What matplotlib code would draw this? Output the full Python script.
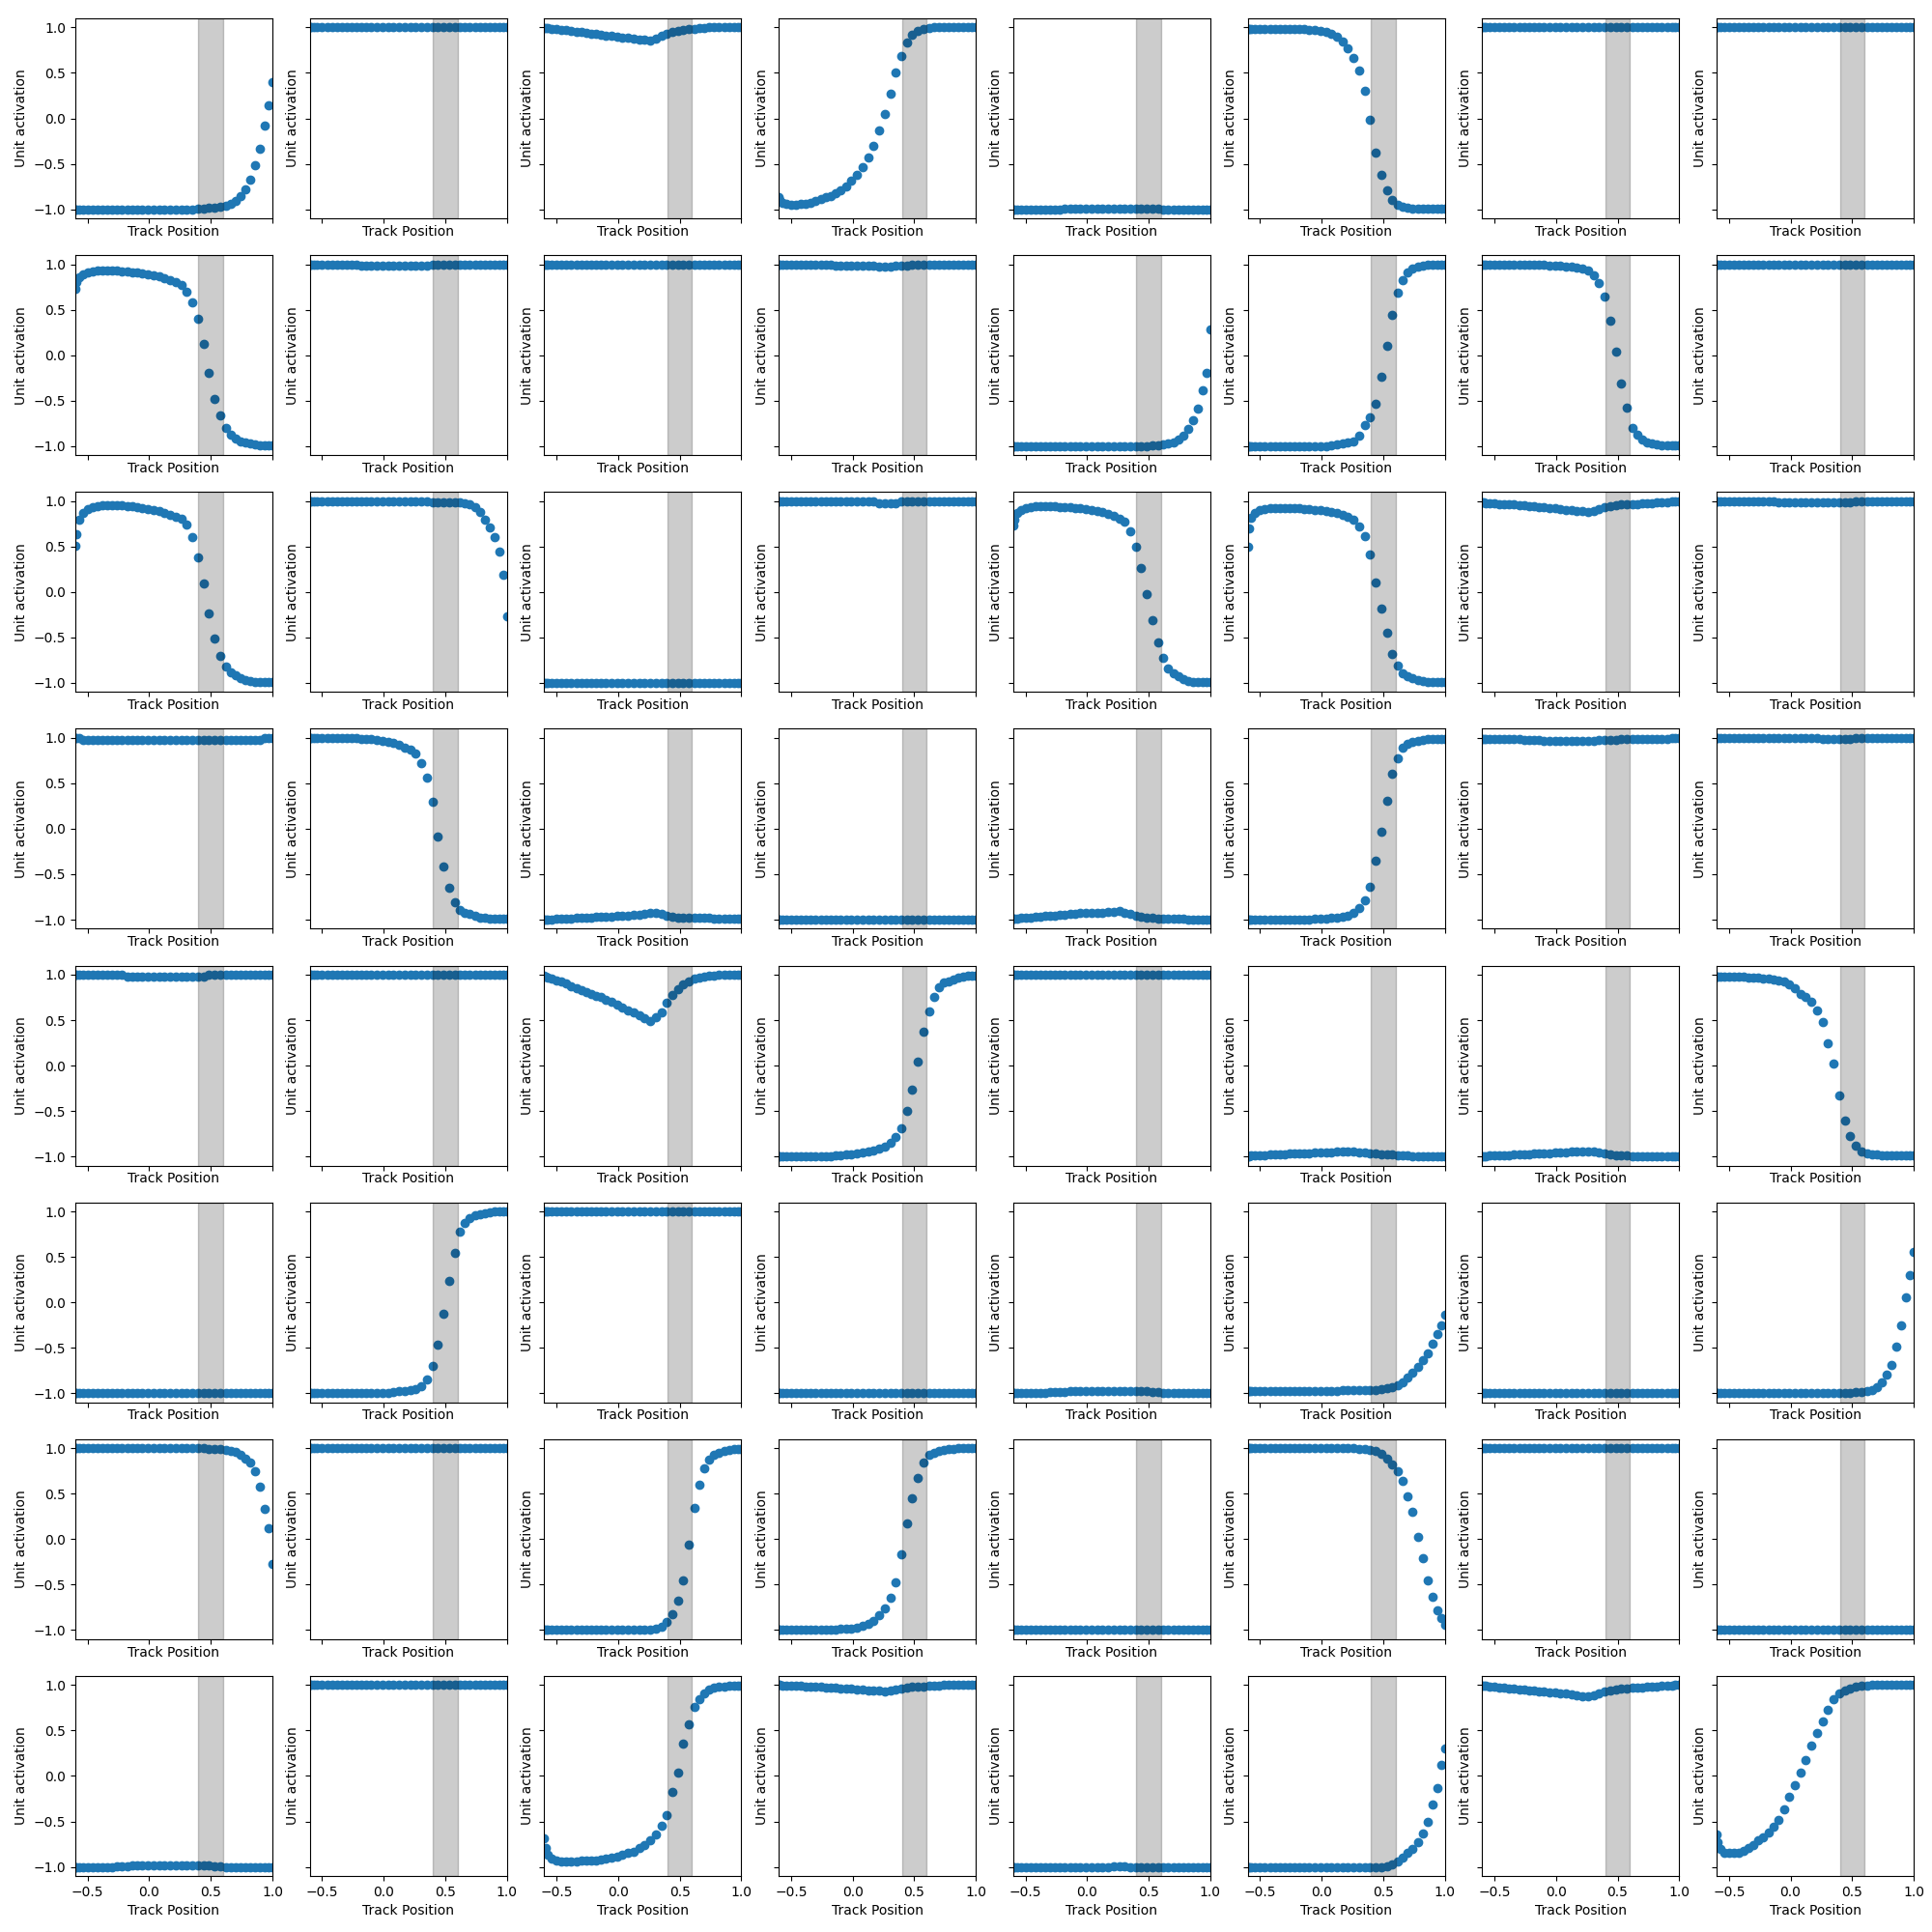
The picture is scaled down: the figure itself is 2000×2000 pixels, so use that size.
import matplotlib
matplotlib.use("Agg")
from matplotlib import pyplot as plt

# track positions where the units were sampled (shared by all 64 panels)
track_pos = [-0.60, -0.59, -0.57, -0.54, -0.50, -0.46, -0.42, -0.38, -0.34, -0.30,
             -0.26, -0.22, -0.18, -0.14, -0.10, -0.055, -0.01, 0.035, 0.08, 0.125,
             0.17, 0.215, 0.26, 0.305, 0.35, 0.395, 0.44, 0.485, 0.53, 0.575,
             0.62, 0.66, 0.70, 0.74, 0.78, 0.82, 0.86, 0.90, 0.94, 0.97, 1.00]

# unit activations, one list per panel (row, column)
# row 1
u11 = [-1.0, -1.0, -1.0, -1.0, -1.0, -1.0, -1.0, -1.0, -1.0, -1.0,
       -1.0, -1.0, -1.0, -1.0, -1.0, -1.0, -1.0, -1.0, -1.0, -1.0,
       -1.0, -1.0, -1.0, -1.0, -1.0, -0.99, -0.99, -0.98, -0.98, -0.97,
       -0.96, -0.94, -0.91, -0.86, -0.78, -0.67, -0.52, -0.33, -0.08, 0.14, 0.40]
u12 = [1.0, 1.0, 1.0, 1.0, 1.0, 1.0, 1.0, 1.0, 1.0, 1.0,
       1.0, 1.0, 1.0, 1.0, 1.0, 1.0, 1.0, 1.0, 1.0, 1.0,
       1.0, 1.0, 1.0, 1.0, 1.0, 1.0, 1.0, 1.0, 1.0, 1.0,
       1.0, 1.0, 1.0, 1.0, 1.0, 1.0, 1.0, 1.0, 1.0, 1.0, 1.0]
u13 = [0.99, 0.99, 0.99, 0.98, 0.98, 0.97, 0.97, 0.96, 0.95, 0.95,
       0.94, 0.93, 0.93, 0.92, 0.91, 0.91, 0.90, 0.89, 0.89, 0.88,
       0.87, 0.87, 0.86, 0.88, 0.91, 0.93, 0.95, 0.96, 0.97, 0.98,
       0.98, 0.99, 0.99, 1.0, 1.0, 1.0, 1.0, 1.0, 1.0, 1.0, 1.0]
u14 = [-0.87, -0.90, -0.93, -0.94, -0.95, -0.95, -0.94, -0.94, -0.93, -0.91,
       -0.89, -0.87, -0.85, -0.82, -0.79, -0.75, -0.69, -0.62, -0.54, -0.43,
       -0.30, -0.13, 0.05, 0.27, 0.50, 0.69, 0.83, 0.92, 0.96, 0.98,
       0.99, 1.0, 1.0, 1.0, 1.0, 1.0, 1.0, 1.0, 1.0, 1.0, 1.0]
u15 = [-1.0, -1.0, -1.0, -1.0, -1.0, -1.0, -1.0, -1.0, -1.0, -1.0,
       -1.0, -1.0, -0.99, -0.99, -0.99, -0.99, -0.99, -0.99, -0.99, -0.99,
       -0.99, -0.99, -0.99, -0.99, -0.99, -0.99, -0.99, -0.99, -0.99, -0.99,
       -1.0, -1.0, -1.0, -1.0, -1.0, -1.0, -1.0, -1.0, -1.0, -1.0, -1.0]
u16 = [0.98, 0.98, 0.98, 0.98, 0.98, 0.98, 0.98, 0.98, 0.98, 0.98,
       0.98, 0.98, 0.98, 0.98, 0.97, 0.97, 0.96, 0.95, 0.93, 0.90,
       0.85, 0.77, 0.66, 0.53, 0.30, -0.02, -0.38, -0.62, -0.79, -0.90,
       -0.95, -0.97, -0.98, -0.99, -0.99, -0.99, -0.99, -0.99, -0.99, -0.99, -0.99]
u17 = [1.0, 1.0, 1.0, 1.0, 1.0, 1.0, 1.0, 1.0, 1.0, 1.0,
       1.0, 1.0, 1.0, 1.0, 1.0, 1.0, 1.0, 1.0, 1.0, 1.0,
       1.0, 1.0, 1.0, 1.0, 1.0, 1.0, 1.0, 1.0, 1.0, 1.0,
       1.0, 1.0, 1.0, 1.0, 1.0, 1.0, 1.0, 1.0, 1.0, 1.0, 1.0]
u18 = [1.0, 1.0, 1.0, 1.0, 1.0, 1.0, 1.0, 1.0, 1.0, 1.0,
       1.0, 1.0, 1.0, 1.0, 1.0, 1.0, 1.0, 1.0, 1.0, 1.0,
       1.0, 1.0, 1.0, 1.0, 1.0, 1.0, 1.0, 1.0, 1.0, 1.0,
       1.0, 1.0, 1.0, 1.0, 1.0, 1.0, 1.0, 1.0, 1.0, 1.0, 1.0]

# row 2
u21 = [0.73, 0.80, 0.86, 0.89, 0.91, 0.92, 0.93, 0.93, 0.93, 0.93,
       0.93, 0.92, 0.92, 0.91, 0.91, 0.90, 0.89, 0.88, 0.87, 0.85,
       0.83, 0.80, 0.77, 0.70, 0.58, 0.40, 0.12, -0.20, -0.48, -0.66,
       -0.80, -0.87, -0.92, -0.95, -0.96, -0.97, -0.98, -0.99, -0.99, -0.99, -0.99]
u22 = [1.0, 1.0, 1.0, 1.0, 1.0, 1.0, 1.0, 1.0, 1.0, 1.0,
       1.0, 1.0, 0.98, 0.98, 0.98, 0.98, 0.98, 0.98, 0.98, 0.98,
       0.98, 0.98, 0.98, 0.98, 0.98, 0.99, 0.99, 0.99, 1.0, 1.0,
       1.0, 1.0, 1.0, 1.0, 1.0, 1.0, 1.0, 1.0, 1.0, 1.0, 1.0]
u23 = [1.0, 1.0, 1.0, 1.0, 1.0, 1.0, 1.0, 1.0, 1.0, 1.0,
       1.0, 1.0, 1.0, 1.0, 1.0, 1.0, 1.0, 1.0, 1.0, 1.0,
       1.0, 1.0, 1.0, 1.0, 1.0, 1.0, 1.0, 1.0, 1.0, 1.0,
       1.0, 1.0, 1.0, 1.0, 1.0, 1.0, 1.0, 1.0, 1.0, 1.0, 1.0]
u24 = [0.99, 0.99, 0.99, 0.99, 0.99, 0.99, 0.99, 0.99, 0.99, 0.99,
       0.99, 0.99, 0.99, 0.98, 0.98, 0.98, 0.98, 0.98, 0.98, 0.98,
       0.98, 0.97, 0.97, 0.97, 0.98, 0.98, 0.98, 0.99, 0.99, 0.99,
       1.0, 1.0, 1.0, 1.0, 1.0, 1.0, 1.0, 1.0, 1.0, 1.0, 1.0]
u25 = [-1.0, -1.0, -1.0, -1.0, -1.0, -1.0, -1.0, -1.0, -1.0, -1.0,
       -1.0, -1.0, -1.0, -1.0, -1.0, -1.0, -1.0, -1.0, -1.0, -1.0,
       -1.0, -1.0, -1.0, -1.0, -1.0, -1.0, -1.0, -1.0, -0.99, -0.99,
       -0.98, -0.97, -0.96, -0.93, -0.89, -0.81, -0.72, -0.59, -0.39, -0.20, 0.28]
u26 = [-1.0, -1.0, -1.0, -1.0, -1.0, -1.0, -1.0, -1.0, -1.0, -1.0,
       -1.0, -1.0, -1.0, -1.0, -1.0, -1.0, -1.0, -1.0, -0.99, -0.98,
       -0.97, -0.96, -0.95, -0.89, -0.77, -0.68, -0.53, -0.24, 0.10, 0.44,
       0.69, 0.83, 0.91, 0.95, 0.97, 0.98, 0.99, 1.0, 1.0, 1.0, 1.0]
u27 = [0.99, 0.99, 0.99, 0.99, 0.99, 0.99, 0.99, 0.99, 0.99, 0.99,
       0.99, 0.99, 0.99, 0.99, 0.99, 0.98, 0.98, 0.98, 0.97, 0.97,
       0.96, 0.95, 0.93, 0.88, 0.79, 0.64, 0.38, 0.04, -0.31, -0.58,
       -0.80, -0.88, -0.93, -0.96, -0.97, -0.98, -0.99, -0.99, -0.99, -0.99, -0.99]
u28 = [1.0, 1.0, 1.0, 1.0, 1.0, 1.0, 1.0, 1.0, 1.0, 1.0,
       1.0, 1.0, 1.0, 1.0, 1.0, 1.0, 1.0, 1.0, 1.0, 1.0,
       1.0, 1.0, 1.0, 1.0, 1.0, 1.0, 1.0, 1.0, 1.0, 1.0,
       1.0, 1.0, 1.0, 1.0, 1.0, 1.0, 1.0, 1.0, 1.0, 1.0, 1.0]

# row 3
u31 = [0.51, 0.64, 0.80, 0.87, 0.91, 0.93, 0.94, 0.95, 0.95, 0.95,
       0.95, 0.95, 0.94, 0.94, 0.93, 0.92, 0.91, 0.90, 0.89, 0.87,
       0.85, 0.83, 0.81, 0.74, 0.60, 0.38, 0.09, -0.24, -0.51, -0.70,
       -0.82, -0.88, -0.92, -0.95, -0.97, -0.98, -0.99, -0.99, -0.99, -0.99, -0.99]
u32 = [1.0, 1.0, 1.0, 1.0, 1.0, 1.0, 1.0, 1.0, 1.0, 1.0,
       1.0, 1.0, 1.0, 1.0, 1.0, 1.0, 1.0, 1.0, 1.0, 1.0,
       1.0, 1.0, 1.0, 1.0, 1.0, 0.99, 0.99, 0.99, 0.99, 0.99,
       0.99, 0.98, 0.96, 0.93, 0.88, 0.80, 0.71, 0.60, 0.44, 0.19, -0.27]
u33 = [-1.0, -1.0, -1.0, -1.0, -1.0, -1.0, -1.0, -1.0, -1.0, -1.0,
       -1.0, -1.0, -1.0, -1.0, -1.0, -1.0, -1.0, -1.0, -1.0, -1.0,
       -1.0, -1.0, -1.0, -1.0, -1.0, -1.0, -1.0, -1.0, -1.0, -1.0,
       -1.0, -1.0, -1.0, -1.0, -1.0, -1.0, -1.0, -1.0, -1.0, -1.0, -1.0]
u34 = [1.0, 1.0, 1.0, 1.0, 1.0, 1.0, 1.0, 1.0, 1.0, 1.0,
       1.0, 1.0, 1.0, 1.0, 1.0, 1.0, 1.0, 1.0, 1.0, 1.0,
       1.0, 0.98, 0.98, 0.98, 0.98, 1.0, 1.0, 1.0, 1.0, 1.0,
       1.0, 1.0, 1.0, 1.0, 1.0, 1.0, 1.0, 1.0, 1.0, 1.0, 1.0]
u35 = [0.73, 0.80, 0.87, 0.90, 0.92, 0.93, 0.94, 0.94, 0.94, 0.94,
       0.94, 0.93, 0.93, 0.93, 0.92, 0.92, 0.91, 0.90, 0.89, 0.88,
       0.86, 0.84, 0.81, 0.77, 0.67, 0.50, 0.26, -0.02, -0.31, -0.56,
       -0.73, -0.84, -0.89, -0.93, -0.96, -0.98, -0.99, -0.99, -0.99, -0.99, -0.99]
u36 = [0.50, 0.70, 0.82, 0.87, 0.90, 0.91, 0.92, 0.92, 0.92, 0.92,
       0.92, 0.92, 0.92, 0.91, 0.91, 0.90, 0.90, 0.89, 0.88, 0.87,
       0.85, 0.83, 0.79, 0.72, 0.61, 0.41, 0.10, -0.18, -0.45, -0.68,
       -0.81, -0.89, -0.93, -0.95, -0.97, -0.98, -0.99, -0.99, -0.99, -0.99, -0.99]
u37 = [0.99, 0.99, 0.98, 0.98, 0.98, 0.97, 0.97, 0.96, 0.96, 0.95,
       0.95, 0.94, 0.94, 0.93, 0.93, 0.92, 0.92, 0.91, 0.90, 0.90,
       0.89, 0.89, 0.88, 0.89, 0.91, 0.93, 0.94, 0.95, 0.96, 0.96,
       0.97, 0.97, 0.98, 0.98, 0.98, 0.99, 0.99, 0.99, 1.0, 1.0, 1.0]
u38 = [1.0, 1.0, 1.0, 1.0, 1.0, 1.0, 1.0, 1.0, 1.0, 1.0,
       1.0, 1.0, 1.0, 1.0, 0.99, 0.99, 0.99, 0.99, 0.99, 0.99,
       0.99, 0.99, 0.99, 0.99, 0.99, 0.99, 0.99, 0.99, 1.0, 1.0,
       1.0, 1.0, 1.0, 1.0, 1.0, 1.0, 1.0, 1.0, 1.0, 1.0, 1.0]

# row 4
u41 = [1.0, 1.0, 1.0, 0.98, 0.98, 0.98, 0.98, 0.98, 0.98, 0.98,
       0.98, 0.98, 0.98, 0.98, 0.98, 0.98, 0.98, 0.98, 0.98, 0.98,
       0.98, 0.98, 0.98, 0.98, 0.98, 0.98, 0.98, 0.98, 0.98, 0.98,
       0.98, 0.98, 0.98, 0.98, 0.98, 0.98, 0.98, 0.98, 1.0, 1.0, 1.0]
u42 = [1.0, 1.0, 1.0, 1.0, 1.0, 1.0, 1.0, 1.0, 1.0, 1.0,
       1.0, 1.0, 0.99, 0.99, 0.99, 0.98, 0.97, 0.96, 0.94, 0.92,
       0.89, 0.87, 0.83, 0.72, 0.56, 0.30, -0.09, -0.42, -0.65, -0.81,
       -0.89, -0.92, -0.94, -0.96, -0.98, -0.98, -0.99, -0.99, -0.99, -0.99, -0.99]
u43 = [-1.0, -1.0, -1.0, -1.0, -0.99, -0.99, -0.99, -0.99, -0.98, -0.98,
       -0.98, -0.98, -0.97, -0.97, -0.97, -0.97, -0.96, -0.96, -0.96, -0.95,
       -0.95, -0.94, -0.93, -0.93, -0.94, -0.96, -0.97, -0.98, -0.98, -0.98,
       -0.98, -0.98, -0.98, -0.98, -0.99, -0.99, -0.99, -0.99, -0.99, -0.99, -0.99]
u44 = [-1.0, -1.0, -1.0, -1.0, -1.0, -1.0, -1.0, -1.0, -1.0, -1.0,
       -1.0, -1.0, -1.0, -1.0, -1.0, -1.0, -1.0, -1.0, -1.0, -1.0,
       -1.0, -1.0, -1.0, -1.0, -1.0, -1.0, -1.0, -1.0, -1.0, -1.0,
       -1.0, -1.0, -1.0, -1.0, -1.0, -1.0, -1.0, -1.0, -1.0, -1.0, -1.0]
u45 = [-0.99, -0.99, -0.99, -0.98, -0.98, -0.98, -0.97, -0.97, -0.96, -0.96,
       -0.96, -0.95, -0.95, -0.94, -0.94, -0.93, -0.93, -0.93, -0.92, -0.92,
       -0.91, -0.91, -0.90, -0.92, -0.94, -0.96, -0.97, -0.98, -0.98, -0.99,
       -0.99, -0.99, -0.99, -0.99, -0.99, -1.0, -1.0, -1.0, -1.0, -1.0, -1.0]
u46 = [-1.0, -1.0, -1.0, -1.0, -1.0, -1.0, -1.0, -1.0, -1.0, -1.0,
       -1.0, -1.0, -1.0, -1.0, -1.0, -0.99, -0.99, -0.99, -0.98, -0.98,
       -0.97, -0.96, -0.93, -0.87, -0.79, -0.64, -0.35, -0.03, 0.31, 0.60,
       0.78, 0.89, 0.93, 0.96, 0.97, 0.98, 0.99, 0.99, 0.99, 0.99, 0.99]
u47 = [0.99, 0.99, 0.99, 0.99, 0.99, 0.99, 0.99, 0.99, 0.99, 0.99,
       0.98, 0.98, 0.98, 0.98, 0.97, 0.97, 0.97, 0.97, 0.97, 0.97,
       0.97, 0.97, 0.97, 0.97, 0.98, 0.98, 0.98, 0.98, 0.99, 0.99,
       0.99, 0.99, 0.99, 0.99, 0.99, 0.99, 0.99, 0.99, 1.0, 1.0, 1.0]
u48 = [1.0, 1.0, 1.0, 1.0, 1.0, 1.0, 1.0, 1.0, 1.0, 1.0,
       1.0, 1.0, 1.0, 1.0, 1.0, 1.0, 1.0, 1.0, 1.0, 1.0,
       1.0, 1.0, 0.99, 0.99, 0.99, 0.99, 0.99, 0.99, 1.0, 1.0,
       1.0, 1.0, 1.0, 1.0, 1.0, 1.0, 1.0, 1.0, 1.0, 1.0, 1.0]

# row 5
u51 = [1.0, 1.0, 1.0, 1.0, 1.0, 1.0, 1.0, 1.0, 1.0, 1.0,
       1.0, 1.0, 0.98, 0.98, 0.98, 0.98, 0.98, 0.98, 0.98, 0.98,
       0.98, 0.98, 0.98, 0.98, 0.98, 0.98, 0.98, 1.0, 1.0, 1.0,
       1.0, 1.0, 1.0, 1.0, 1.0, 1.0, 1.0, 1.0, 1.0, 1.0, 1.0]
u52 = [1.0, 1.0, 1.0, 1.0, 1.0, 1.0, 1.0, 1.0, 1.0, 1.0,
       1.0, 1.0, 1.0, 1.0, 1.0, 1.0, 1.0, 1.0, 1.0, 1.0,
       1.0, 1.0, 1.0, 1.0, 1.0, 1.0, 1.0, 1.0, 1.0, 1.0,
       1.0, 1.0, 1.0, 1.0, 1.0, 1.0, 1.0, 1.0, 1.0, 1.0, 1.0]
u53 = [0.99, 0.98, 0.97, 0.96, 0.94, 0.92, 0.90, 0.87, 0.85, 0.83,
       0.81, 0.79, 0.77, 0.75, 0.72, 0.70, 0.67, 0.64, 0.61, 0.58,
       0.55, 0.52, 0.49, 0.53, 0.59, 0.69, 0.78, 0.84, 0.89, 0.93,
       0.96, 0.97, 0.98, 0.99, 0.99, 1.0, 1.0, 1.0, 1.0, 1.0, 1.0]
u54 = [-1.0, -1.0, -1.0, -1.0, -1.0, -1.0, -1.0, -1.0, -1.0, -1.0,
       -1.0, -1.0, -1.0, -0.99, -0.99, -0.98, -0.98, -0.97, -0.96, -0.95,
       -0.93, -0.91, -0.89, -0.85, -0.79, -0.69, -0.50, -0.26, 0.04, 0.37,
       0.60, 0.76, 0.86, 0.91, 0.93, 0.95, 0.97, 0.98, 0.99, 0.99, 0.99]
u55 = [1.0, 1.0, 1.0, 1.0, 1.0, 1.0, 1.0, 1.0, 1.0, 1.0,
       1.0, 1.0, 1.0, 1.0, 1.0, 1.0, 1.0, 1.0, 1.0, 1.0,
       1.0, 1.0, 1.0, 1.0, 1.0, 1.0, 1.0, 1.0, 1.0, 1.0,
       1.0, 1.0, 1.0, 1.0, 1.0, 1.0, 1.0, 1.0, 1.0, 1.0, 1.0]
u56 = [-1.0, -1.0, -0.99, -0.99, -0.99, -0.99, -0.98, -0.98, -0.98, -0.98,
       -0.97, -0.97, -0.97, -0.97, -0.97, -0.96, -0.96, -0.96, -0.96, -0.95,
       -0.95, -0.95, -0.95, -0.96, -0.96, -0.97, -0.97, -0.98, -0.98, -0.98,
       -0.99, -0.99, -0.99, -1.0, -1.0, -1.0, -1.0, -1.0, -1.0, -1.0, -1.0]
u57 = [-1.0, -1.0, -1.0, -0.99, -0.99, -0.99, -0.99, -0.99, -0.98, -0.98,
       -0.98, -0.98, -0.97, -0.97, -0.97, -0.97, -0.96, -0.96, -0.96, -0.95,
       -0.95, -0.94, -0.94, -0.95, -0.96, -0.97, -0.98, -0.99, -0.99, -0.99,
       -1.0, -1.0, -1.0, -1.0, -1.0, -1.0, -1.0, -1.0, -1.0, -1.0, -1.0]
u58 = [0.98, 0.98, 0.98, 0.98, 0.98, 0.98, 0.98, 0.98, 0.97, 0.97,
       0.97, 0.96, 0.96, 0.95, 0.94, 0.92, 0.89, 0.85, 0.79, 0.75,
       0.70, 0.61, 0.48, 0.25, 0.02, -0.33, -0.60, -0.78, -0.88, -0.94,
       -0.97, -0.98, -0.98, -0.99, -0.99, -0.99, -0.99, -0.99, -0.99, -0.99, -0.99]

# row 6
u61 = [-1.0, -1.0, -1.0, -1.0, -1.0, -1.0, -1.0, -1.0, -1.0, -1.0,
       -1.0, -1.0, -1.0, -1.0, -1.0, -1.0, -1.0, -1.0, -1.0, -1.0,
       -1.0, -1.0, -1.0, -1.0, -1.0, -1.0, -1.0, -1.0, -1.0, -1.0,
       -1.0, -1.0, -1.0, -1.0, -1.0, -1.0, -1.0, -1.0, -1.0, -1.0, -1.0]
u62 = [-1.0, -1.0, -1.0, -1.0, -1.0, -1.0, -1.0, -1.0, -1.0, -1.0,
       -1.0, -1.0, -1.0, -1.0, -1.0, -1.0, -1.0, -1.0, -0.99, -0.98,
       -0.98, -0.97, -0.95, -0.92, -0.85, -0.70, -0.47, -0.13, 0.24, 0.54,
       0.78, 0.87, 0.93, 0.96, 0.97, 0.98, 0.99, 1.0, 1.0, 1.0, 1.0]
u63 = [1.0, 1.0, 1.0, 1.0, 1.0, 1.0, 1.0, 1.0, 1.0, 1.0,
       1.0, 1.0, 1.0, 1.0, 1.0, 1.0, 1.0, 1.0, 1.0, 1.0,
       1.0, 1.0, 1.0, 1.0, 1.0, 1.0, 1.0, 1.0, 1.0, 1.0,
       1.0, 1.0, 1.0, 1.0, 1.0, 1.0, 1.0, 1.0, 1.0, 1.0, 1.0]
u64 = [-1.0, -1.0, -1.0, -1.0, -1.0, -1.0, -1.0, -1.0, -1.0, -1.0,
       -1.0, -1.0, -1.0, -1.0, -1.0, -1.0, -1.0, -1.0, -1.0, -1.0,
       -1.0, -1.0, -1.0, -1.0, -1.0, -1.0, -1.0, -1.0, -1.0, -1.0,
       -1.0, -1.0, -1.0, -1.0, -1.0, -1.0, -1.0, -1.0, -1.0, -1.0, -1.0]
u65 = [-1.0, -1.0, -1.0, -1.0, -1.0, -1.0, -1.0, -1.0, -1.0, -0.99,
       -0.99, -0.99, -0.99, -0.98, -0.98, -0.98, -0.98, -0.98, -0.98, -0.98,
       -0.98, -0.98, -0.98, -0.98, -0.98, -0.98, -0.98, -0.98, -0.99, -0.99,
       -1.0, -1.0, -1.0, -1.0, -1.0, -1.0, -1.0, -1.0, -1.0, -1.0, -1.0]
u66 = [-0.98, -0.98, -0.98, -0.98, -0.98, -0.98, -0.98, -0.98, -0.98, -0.98,
       -0.98, -0.98, -0.98, -0.98, -0.98, -0.98, -0.98, -0.98, -0.98, -0.98,
       -0.97, -0.97, -0.97, -0.97, -0.97, -0.97, -0.96, -0.95, -0.94, -0.93,
       -0.91, -0.88, -0.83, -0.77, -0.71, -0.64, -0.56, -0.46, -0.35, -0.25, -0.14]
u67 = [-1.0, -1.0, -1.0, -1.0, -1.0, -1.0, -1.0, -1.0, -1.0, -1.0,
       -1.0, -1.0, -1.0, -1.0, -1.0, -1.0, -1.0, -1.0, -1.0, -1.0,
       -1.0, -1.0, -1.0, -1.0, -1.0, -1.0, -1.0, -1.0, -1.0, -1.0,
       -1.0, -1.0, -1.0, -1.0, -1.0, -1.0, -1.0, -1.0, -1.0, -1.0, -1.0]
u68 = [-1.0, -1.0, -1.0, -1.0, -1.0, -1.0, -1.0, -1.0, -1.0, -1.0,
       -1.0, -1.0, -1.0, -1.0, -1.0, -1.0, -1.0, -1.0, -1.0, -1.0,
       -1.0, -1.0, -1.0, -1.0, -1.0, -1.0, -1.0, -1.0, -0.99, -0.99,
       -0.98, -0.96, -0.93, -0.88, -0.79, -0.69, -0.49, -0.25, 0.06, 0.30, 0.55]

# row 7
u71 = [1.0, 1.0, 1.0, 1.0, 1.0, 1.0, 1.0, 1.0, 1.0, 1.0,
       1.0, 1.0, 1.0, 1.0, 1.0, 1.0, 1.0, 1.0, 1.0, 1.0,
       1.0, 1.0, 1.0, 1.0, 1.0, 1.0, 1.0, 0.99, 0.99, 0.99,
       0.98, 0.97, 0.96, 0.93, 0.89, 0.84, 0.75, 0.58, 0.33, 0.12, -0.27]
u72 = [1.0, 1.0, 1.0, 1.0, 1.0, 1.0, 1.0, 1.0, 1.0, 1.0,
       1.0, 1.0, 1.0, 1.0, 1.0, 1.0, 1.0, 1.0, 1.0, 1.0,
       1.0, 1.0, 1.0, 1.0, 1.0, 1.0, 1.0, 1.0, 1.0, 1.0,
       1.0, 1.0, 1.0, 1.0, 1.0, 1.0, 1.0, 1.0, 1.0, 1.0, 1.0]
u73 = [-1.0, -1.0, -1.0, -1.0, -1.0, -1.0, -1.0, -1.0, -1.0, -1.0,
       -1.0, -1.0, -1.0, -1.0, -1.0, -1.0, -1.0, -1.0, -1.0, -1.0,
       -1.0, -1.0, -0.99, -0.98, -0.96, -0.91, -0.83, -0.68, -0.45, -0.06,
       0.34, 0.60, 0.78, 0.88, 0.93, 0.95, 0.97, 0.98, 0.99, 0.99, 0.99]
u74 = [-1.0, -1.0, -1.0, -1.0, -1.0, -1.0, -1.0, -1.0, -1.0, -1.0,
       -1.0, -0.99, -0.99, -0.99, -0.98, -0.98, -0.98, -0.97, -0.95, -0.93,
       -0.90, -0.84, -0.76, -0.64, -0.47, -0.17, 0.17, 0.45, 0.67, 0.84,
       0.93, 0.95, 0.97, 0.98, 0.99, 0.99, 1.0, 1.0, 1.0, 1.0, 1.0]
u75 = [-1.0, -1.0, -1.0, -1.0, -1.0, -1.0, -1.0, -1.0, -1.0, -1.0,
       -1.0, -1.0, -1.0, -1.0, -1.0, -1.0, -1.0, -1.0, -1.0, -1.0,
       -1.0, -1.0, -1.0, -1.0, -1.0, -1.0, -1.0, -1.0, -1.0, -1.0,
       -1.0, -1.0, -1.0, -1.0, -1.0, -1.0, -1.0, -1.0, -1.0, -1.0, -1.0]
u76 = [1.0, 1.0, 1.0, 1.0, 1.0, 1.0, 1.0, 1.0, 1.0, 1.0,
       1.0, 1.0, 1.0, 1.0, 1.0, 1.0, 1.0, 1.0, 1.0, 1.0,
       1.0, 1.0, 1.0, 0.99, 0.99, 0.98, 0.97, 0.94, 0.89, 0.82,
       0.75, 0.64, 0.47, 0.30, 0.03, -0.21, -0.45, -0.63, -0.78, -0.87, -0.94]
u77 = [1.0, 1.0, 1.0, 1.0, 1.0, 1.0, 1.0, 1.0, 1.0, 1.0,
       1.0, 1.0, 1.0, 1.0, 1.0, 1.0, 1.0, 1.0, 1.0, 1.0,
       1.0, 1.0, 1.0, 1.0, 1.0, 1.0, 1.0, 1.0, 1.0, 1.0,
       1.0, 1.0, 1.0, 1.0, 1.0, 1.0, 1.0, 1.0, 1.0, 1.0, 1.0]
u78 = [-1.0, -1.0, -1.0, -1.0, -1.0, -1.0, -1.0, -1.0, -1.0, -1.0,
       -1.0, -1.0, -1.0, -1.0, -1.0, -1.0, -1.0, -1.0, -1.0, -1.0,
       -1.0, -1.0, -1.0, -1.0, -1.0, -1.0, -1.0, -1.0, -1.0, -1.0,
       -1.0, -1.0, -1.0, -1.0, -1.0, -1.0, -1.0, -1.0, -1.0, -1.0, -1.0]

# row 8
u81 = [-1.0, -1.0, -1.0, -1.0, -1.0, -1.0, -1.0, -1.0, -1.0, -1.0,
       -0.99, -0.99, -0.99, -0.98, -0.98, -0.98, -0.98, -0.98, -0.98, -0.98,
       -0.98, -0.98, -0.98, -0.98, -0.98, -0.98, -0.98, -0.98, -0.99, -0.99,
       -1.0, -1.0, -1.0, -1.0, -1.0, -1.0, -1.0, -1.0, -1.0, -1.0, -1.0]
u82 = [1.0, 1.0, 1.0, 1.0, 1.0, 1.0, 1.0, 1.0, 1.0, 1.0,
       1.0, 1.0, 1.0, 1.0, 1.0, 1.0, 1.0, 1.0, 1.0, 1.0,
       1.0, 1.0, 1.0, 1.0, 1.0, 1.0, 1.0, 1.0, 1.0, 1.0,
       1.0, 1.0, 1.0, 1.0, 1.0, 1.0, 1.0, 1.0, 1.0, 1.0, 1.0]
u83 = [-0.69, -0.79, -0.87, -0.91, -0.93, -0.94, -0.94, -0.94, -0.94, -0.93,
       -0.93, -0.93, -0.93, -0.92, -0.91, -0.90, -0.89, -0.87, -0.85, -0.83,
       -0.79, -0.76, -0.71, -0.64, -0.55, -0.43, -0.18, 0.04, 0.36, 0.57,
       0.76, 0.84, 0.91, 0.95, 0.97, 0.98, 0.98, 0.99, 0.99, 0.99, 0.99]
u84 = [1.0, 1.0, 0.99, 0.99, 0.99, 0.99, 0.99, 0.98, 0.98, 0.98,
       0.98, 0.97, 0.97, 0.97, 0.96, 0.96, 0.96, 0.95, 0.95, 0.94,
       0.94, 0.94, 0.93, 0.94, 0.95, 0.96, 0.97, 0.98, 0.98, 0.98,
       0.99, 0.99, 0.99, 1.0, 1.0, 1.0, 1.0, 1.0, 1.0, 1.0, 1.0]
u85 = [-1.0, -1.0, -1.0, -1.0, -1.0, -1.0, -1.0, -1.0, -1.0, -1.0,
       -1.0, -1.0, -1.0, -1.0, -1.0, -1.0, -1.0, -1.0, -1.0, -1.0,
       -1.0, -0.99, -0.99, -0.99, -1.0, -1.0, -1.0, -1.0, -1.0, -1.0,
       -1.0, -1.0, -1.0, -1.0, -1.0, -1.0, -1.0, -1.0, -1.0, -1.0, -1.0]
u86 = [-1.0, -1.0, -1.0, -1.0, -1.0, -1.0, -1.0, -1.0, -1.0, -1.0,
       -1.0, -1.0, -1.0, -1.0, -1.0, -1.0, -1.0, -1.0, -1.0, -1.0,
       -1.0, -1.0, -1.0, -1.0, -1.0, -1.0, -1.0, -1.0, -0.99, -0.97,
       -0.94, -0.90, -0.85, -0.80, -0.73, -0.63, -0.51, -0.31, -0.13, 0.12, 0.30]
u87 = [0.99, 0.99, 0.99, 0.98, 0.98, 0.97, 0.97, 0.96, 0.96, 0.95,
       0.95, 0.94, 0.94, 0.93, 0.93, 0.92, 0.92, 0.91, 0.91, 0.90,
       0.89, 0.88, 0.88, 0.89, 0.91, 0.93, 0.94, 0.95, 0.96, 0.96,
       0.97, 0.97, 0.97, 0.98, 0.98, 0.98, 0.99, 0.99, 0.99, 1.0, 1.0]
u88 = [-0.64, -0.73, -0.80, -0.84, -0.85, -0.85, -0.84, -0.82, -0.79, -0.76,
       -0.71, -0.67, -0.62, -0.56, -0.48, -0.37, -0.23, -0.10, 0.04, 0.18,
       0.33, 0.47, 0.60, 0.73, 0.84, 0.91, 0.94, 0.96, 0.98, 0.99,
       0.99, 1.0, 1.0, 1.0, 1.0, 1.0, 1.0, 1.0, 1.0, 1.0, 1.0]

units = [
    [u11, u12, u13, u14, u15, u16, u17, u18],
    [u21, u22, u23, u24, u25, u26, u27, u28],
    [u31, u32, u33, u34, u35, u36, u37, u38],
    [u41, u42, u43, u44, u45, u46, u47, u48],
    [u51, u52, u53, u54, u55, u56, u57, u58],
    [u61, u62, u63, u64, u65, u66, u67, u68],
    [u71, u72, u73, u74, u75, u76, u77, u78],
    [u81, u82, u83, u84, u85, u86, u87, u88],
]

# goal region on the track
goal_lo, goal_hi = 0.4, 0.6

fig, axes = plt.subplots(8, 8, figsize=(20, 20), sharex=True, sharey=True)
for r in range(8):
    for c in range(8):
        ax = axes[r][c]
        ax.scatter(track_pos, units[r][c])
        ax.axvspan(goal_lo, goal_hi, color="k", alpha=0.2)
        # inner rows have no tick labels, so the label sits right under the ticks
        ax.set_xlabel("Track Position", labelpad=4.0 if r == 7 else 1.3)
        ax.set_ylabel("Unit activation")

axes[0][0].set_xlim(-0.6, 1.0)
axes[0][0].set_ylim(-1.1, 1.1)

fig.subplots_adjust(left=0.039, right=0.9905, bottom=0.029, top=0.9905,
                    wspace=0.19, hspace=0.184)
fig.savefig("out.png", dpi=100)
